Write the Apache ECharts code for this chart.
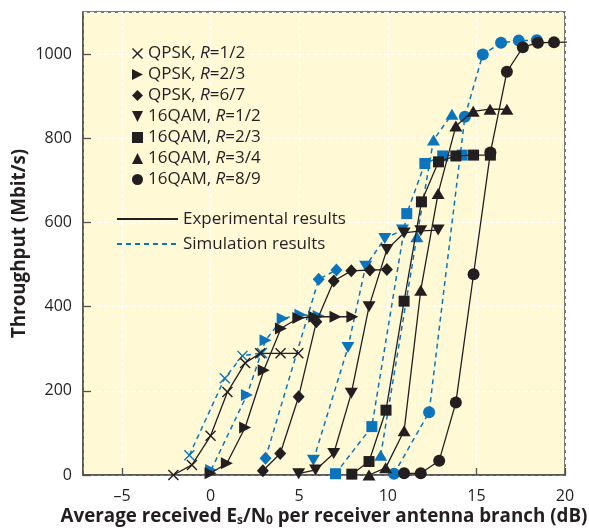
<!DOCTYPE html>
<html>
<head>
<meta charset="utf-8">
<script src="https://cdn.jsdelivr.net/npm/echarts@6/dist/echarts.min.js"></script>
<style>
  html, body { margin: 0; padding: 0; background: #fff; }
  #chart { width: 589px; height: 532px; }
</style>
</head>
<body>
<div id="chart"></div>
<script>
// [Es/N0 dB, throughput Mbit/s]
var qpsk12Exp = [[-2.1, 0], [-1.05, 24], [0, 93], [0.95, 197], [1.95, 266], [2.8, 289], [3.95, 289], [4.95, 289]];
var qpsk12Sim = [[-1.2, 47], [0.8, 230], [1.8, 283], [2.9, 290]];
var qpsk23Exp = [[0, 4], [0.92, 28], [1.95, 113], [3, 249], [3.97, 348], [4.95, 373], [5.85, 376], [7.05, 376], [8, 376]];
var qpsk23Sim = [[0.03, 12], [2.05, 190], [3.1, 320], [4.07, 372], [5.07, 381], [6.1, 378]];
var qpsk67Exp = [[2.95, 10], [3.93, 51], [4.97, 186], [5.97, 364], [6.95, 461], [7.94, 485], [8.99, 487], [9.95, 488]];
var qpsk67Sim = [[3.1, 40], [6.1, 465], [7.1, 487]];
var qam12Exp = [[4.97, 3], [5.92, 12], [6.95, 51], [7.94, 194], [8.94, 400], [9.95, 536], [10.92, 575], [11.86, 580], [12.84, 582]];
var qam12Sim = [[5.8, 35], [7.75, 303], [8.75, 496], [9.83, 562], [10.83, 582]];
var qam23Exp = [[7.97, 2], [8.94, 32], [9.9, 154], [10.92, 413], [11.9, 649], [12.86, 744], [13.84, 758], [14.84, 760], [15.79, 760]];
var qam23Sim = [[7.05, 3], [9.1, 115], [11.07, 621], [12.09, 740], [13.1, 758], [14.2, 760]];
var qam34Exp = [[8.94, 0], [9.88, 17], [10.92, 105], [11.86, 439], [12.84, 669], [13.84, 829], [14.82, 864], [15.77, 869], [16.72, 869]];
var qam34Sim = [[9.6, 47], [11.64, 566], [12.58, 796], [13.62, 857]];
var qam89Exp = [[10.92, 4], [11.86, 4], [12.9, 34], [13.84, 172], [14.84, 477], [15.79, 766], [16.72, 958], [17.62, 1016], [18.47, 1027], [19.38, 1028], [20.5, 1029]];
var qam89Sim = [[10.35, 3], [12.33, 149], [14.35, 851], [15.36, 999], [16.39, 1027], [17.39, 1032], [18.41, 1033]];

var names = ['QPSK, R=1/2', 'QPSK, R=2/3', 'QPSK, R=6/7', '16QAM, R=1/2', '16QAM, R=2/3', '16QAM, R=3/4', '16QAM, R=8/9'];
var expData = [qpsk12Exp, qpsk23Exp, qpsk67Exp, qam12Exp, qam23Exp, qam34Exp, qam89Exp];
var simData = [qpsk12Sim, qpsk23Sim, qpsk67Sim, qam12Sim, qam23Sim, qam34Sim, qam89Sim];

var BLACK = '#231f20', BLUE = '#0b74bc', AXIS = '#505050';
var FONT = 'Open Sans';

var symbols = [
    'path://M0,0.9L0.9,0L5,4.1L9.1,0L10,0.9L5.9,5L10,9.1L9.1,10L5,5.9L0.9,10L0,9.1L4.1,5Z',
    'path://M0,0L10,5L0,10Z',
    'diamond',
    'path://M0,0L10,0L5,10Z',
    'rect',
    'triangle',
    'circle'
];
var sizes = [[11, 11], [12, 12], [12, 13], [13, 11], [11, 11], [13, 11], [12, 12]];

var chart = echarts.init(document.getElementById('chart'));

var series = [];
// simulation first so experimental marks sit on top
simData.forEach(function (d, i) {
    series.push({
        name: names[i] + ' sim',
        type: 'line',
        data: d,
        symbol: symbols[i],
        symbolSize: sizes[i],
        itemStyle: { color: BLUE },
        lineStyle: { color: BLUE, width: 1.5, type: [5, 4] },
        z: 2
    });
});
expData.forEach(function (d, i) {
    series.push({
        name: names[i],
        type: 'line',
        data: d,
        symbol: symbols[i],
        symbolSize: sizes[i],
        itemStyle: { color: BLACK },
        lineStyle: { color: BLACK, width: 1.3 },
        z: 3
    });
});
series.push({ name: 'Experimental results', type: 'line', data: [], symbol: 'none',
    itemStyle: { color: BLACK }, lineStyle: { color: BLACK, width: 1.3 } });
series.push({ name: 'Simulation results', type: 'line', data: [], symbol: 'none',
    itemStyle: { color: BLUE }, lineStyle: { color: BLUE, width: 1.5, type: [5, 4] } });

var option = {
    animation: false,
    backgroundColor: '#ffffff',
    textStyle: { fontFamily: FONT, color: BLACK },
    grid: {
        left: 83, right: 24, top: 12, bottom: 57,
        outerBoundsMode: 'none',
        containLabel: false,
        show: true, backgroundColor: '#fff9d6',
        borderColor: AXIS, borderWidth: 1.5
    },
    legend: [{
        orient: 'vertical',
        left: 127, top: 38,
        itemWidth: 11, itemHeight: 11,
        itemGap: 0,
        selectedMode: false,
        data: names.map(function (n, i) { return { name: n, icon: symbols[i] }; }),
        formatter: function (n) {
            var p = n.split('R=');
            return p[0] + '{i|R}=' + p[1];
        },
        textStyle: {
            fontFamily: FONT, fontSize: 17, color: BLACK, lineHeight: 21,
            rich: { i: { fontFamily: FONT, fontSize: 17, fontStyle: 'italic', color: BLACK, lineHeight: 21 } }
        }
    }, {
        orient: 'vertical',
        left: 111, top: 203,
        itemWidth: 61, itemHeight: 12,
        itemGap: 3,
        selectedMode: false,
        itemStyle: { color: 'rgba(0,0,0,0)', borderWidth: 0, opacity: 0 },
        data: ['Experimental results', 'Simulation results'],
        textStyle: { fontFamily: FONT, fontSize: 17, color: BLACK, lineHeight: 22 }
    }],
    xAxis: {
        type: 'value',
        min: -7.2, max: 20,
        name: 'Average received E{sub|s}/N{sub|0} per receiver antenna branch (dB)',
        nameLocation: 'middle',
        nameGap: 32,
        nameMoveOverlap: false,
        nameTextStyle: {
            fontFamily: FONT, fontSize: 18.8, fontWeight: 'bold', color: BLACK,
            rich: { sub: { fontFamily: FONT, fontSize: 12, fontWeight: 'bold', color: BLACK, padding: [8, 0, 0, 0] } }
        },
        axisLine: { onZero: false, lineStyle: { color: AXIS, width: 1.5 } },
        axisTick: { inside: true, length: 7, lineStyle: { color: AXIS, width: 1.3 } },
        axisLabel: {
            fontFamily: FONT, fontSize: 16, color: BLACK, margin: 13,
            showMinLabel: false,
            formatter: function (v) { return v < 0 ? '\u2013' + (-v) : String(v); }
        },
        splitLine: { show: true, lineStyle: { color: '#ffffff', width: 1, type: [4, 3] } }
    },
    yAxis: {
        type: 'value',
        min: 0, max: 1100, interval: 200,
        name: 'Throughput (Mbit/s)',
        nameLocation: 'middle',
        nameGap: 54,
        nameMoveOverlap: false,
        nameTextStyle: { fontFamily: FONT, fontSize: 18.8, fontWeight: 'bold', color: BLACK },
        axisLine: { show: true, onZero: false, lineStyle: { color: AXIS, width: 1.5 } },
        axisTick: { show: true, inside: true, length: 8, lineStyle: { color: AXIS, width: 1.3 } },
        axisLabel: {
            fontFamily: FONT, fontSize: 16, color: BLACK, margin: 11,
            showMaxLabel: false,
            formatter: function (v) { return String(v); }
        },
        splitLine: { show: true, lineStyle: { color: '#ffffff', width: 1, type: [4, 3] } }
    },
    series: series
};
chart.setOption(option);
</script>
</body>
</html>
